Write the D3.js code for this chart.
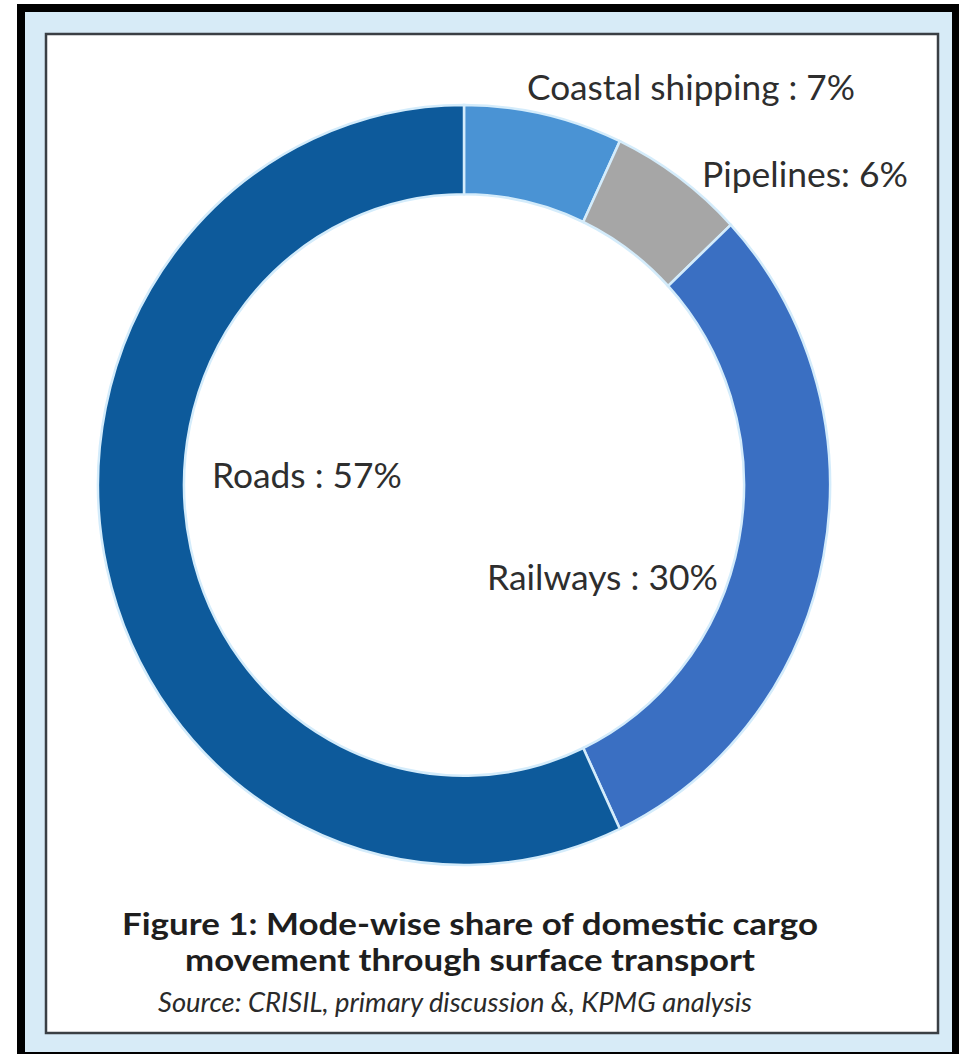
<!DOCTYPE html>
<html>
<head>
<meta charset="utf-8">
<script src="https://cdn.jsdelivr.net/npm/d3@7"></script>
<style>
  body { margin: 0; background: #fff; }
  text { font-family: Lato, "Open Sans", sans-serif; }
</style>
</head>
<body>
<div id="chart"></div>
<script>
// data
var modes = ['Coastal shipping', 'Pipelines', 'Railways', 'Roads']
var shares = [7, 6, 30, 57]
var labels = ['Coastal shipping : 7%', 'Pipelines: 6%', 'Railways : 30%', 'Roads : 57%']
var colors = ['#4a93d4', '#a6a6a6', '#3a6fc2', '#0d5a9b']
var titleLines = ['Figure 1: Mode-wise share of domestic cargo', 'movement through surface transport']
var sourceText = 'Source: CRISIL, primary discussion &, KPMG analysis'

var W = 959, H = 1054
var svg = d3.select('#chart').append('svg').attr('width', W).attr('height', H)

// frame: black edge, light blue mat, white panel
svg.append('rect').attr('x', 17).attr('y', 4).attr('width', W).attr('height', H).attr('fill', '#000')
svg.append('rect').attr('x', 25).attr('y', 12).attr('width', 927).attr('height', 1040).attr('fill', '#d7ebf7')
svg.append('rect').attr('x', 46).attr('y', 34).attr('width', 892).attr('height', 999)
  .attr('fill', '#fff').attr('stroke', '#3a3f44').attr('stroke-width', 2.5)

// donut (slightly taller than wide in the source)
var cx = 464, cy = 485, outerR = 366, innerR = 280, yStretch = 380 / 366
var pie = d3.pie().sort(null).value(function (d) { return d })
var arc = d3.arc().innerRadius(innerR).outerRadius(outerR)

var g = svg.append('g').attr('transform', 'translate(' + cx + ',' + cy + ') scale(1,' + yStretch + ')')
g.selectAll('path')
  .data(pie(shares))
  .enter().append('path')
  .attr('d', arc)
  .attr('fill', function (d, i) { return colors[i] })
  .attr('stroke', '#d4ecfb')
  .attr('stroke-width', 2.5)
  .attr('class', function (d, i) { return 'slice ' + modes[i] })

// fit a text to a target width by adjusting font size
function fitText (sel, targetW) {
  var fs = parseFloat(sel.attr('font-size'))
  var w = sel.node().getComputedTextLength()
  sel.attr('font-size', (fs * targetW / w).toFixed(2))
}

// slice labels: [left x, baseline y, width]
var labelPos = [[527, 100, 328], [702, 187, 206], [487, 590, 231], [212, 488, 190]]
labels.forEach(function (t, i) {
  var p = labelPos[i]
  var txt = svg.append('text')
    .attr('x', p[0]).attr('y', p[1])
    .attr('font-size', 30)
    .attr('fill', '#2e2e2e')
    .text(t)
  fitText(txt, p[2])
})

// caption - the source font is a condensed bold, so stretch Lato to the same width
var titleBase = [935, 971]
var titleW = [696, 570]
titleLines.forEach(function (t, i) {
  svg.append('text')
    .attr('x', 470 - titleW[i] / 2).attr('y', titleBase[i])
    .attr('font-size', 30)
    .attr('font-weight', 'bold')
    .attr('fill', '#1e1e1e')
    .attr('textLength', titleW[i])
    .attr('lengthAdjust', 'spacingAndGlyphs')
    .text(t)
})
var src = svg.append('text')
  .attr('x', 455).attr('y', 1012)
  .attr('text-anchor', 'middle')
  .attr('font-size', 20)
  .attr('font-style', 'italic')
  .attr('fill', '#2a2a2a')
  .text(sourceText)
fitText(src, 594)
</script>
</body>
</html>
